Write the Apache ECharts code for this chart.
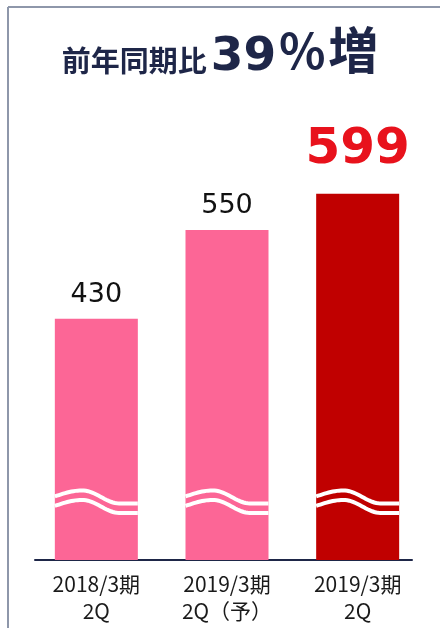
<!DOCTYPE html>
<html><head><meta charset="utf-8">
<script src="https://cdn.jsdelivr.net/npm/echarts@6/dist/echarts.min.js"></script>
<style>html,body{margin:0;padding:0;background:#fff}#c{width:440px;height:628px}</style>
</head><body><div id="c"></div>
<script>
const categories = ['2018/3期\n2Q', '2019/3期\n2Q（予）', '2019/3期\n2Q'];
const values = [430, 550, 599];
const titleSmall = '前年同期比';
const titleNum = '39';
const titlePct = '％';
const titleTail = '増';

const BAR_COLORS = ['#FC6696', '#FC6696', '#C00000'];
const Y_MIN = 104, Y_MAX = 704;
const BREAK_AT = 198;
const BAR_W = 83;

function waveOffset(t) {
  if (t < 0.33) return 6 * (1 - Math.sin(t / 0.33 * Math.PI / 2));
  if (t < 0.78) return 13 * (1 - Math.cos(Math.PI * (t - 0.33) / 0.45)) / 2;
  return 13;
}

const chart = echarts.init(document.getElementById('c'), null, {renderer: 'canvas'});
chart.setOption({
  animation: false,
  title: {
    left: 'center', top: 20,
    text: '{s|' + titleSmall + '}{n|' + titleNum + '}{p|' + titlePct + '}{b|' + titleTail + '}',
    textStyle: {
      rich: {
        s: {fontFamily: 'Noto Sans CJK JP', fontWeight: 'bold', fontSize: 29, color: '#1E2648', verticalAlign: 'bottom', lineHeight: 56, padding: [0, 0, 6, 0]},
        n: {fontFamily: 'DejaVu Sans', fontWeight: 'bold', fontSize: 47, color: '#1E2648', verticalAlign: 'bottom', lineHeight: 50, padding: [0, 0, 0, 4]},
        b: {fontFamily: 'Noto Sans CJK JP', fontWeight: 'bold', fontSize: 50, color: '#1E2648', verticalAlign: 'bottom', lineHeight: 56, padding: [0, 0, 6, 0]},
        p: {fontFamily: 'Noto Sans CJK JP', fontWeight: 'bold', fontSize: 48, color: '#1E2648', verticalAlign: 'bottom', lineHeight: 56, padding: [0, 2, 6, 2]}
      }
    }
  },
  graphic: [
    {type: 'line', shape: {x1: 8, y1: 7, x2: 440, y2: 7}, style: {stroke: '#8E97AA', lineWidth: 2}},
    {type: 'line', shape: {x1: 8, y1: 7, x2: 8, y2: 628}, style: {stroke: '#8E97AA', lineWidth: 2}}
  ],
  grid: [
    {left: 31, right: 17, top: 116, bottom: 68},
    {left: 35, right: 28, top: 116, bottom: 68}
  ],
  xAxis: [
    {type: 'category', data: categories, gridIndex: 0,
     axisLine: {show: false}, axisTick: {show: false},
     axisLabel: {fontFamily: 'Noto Sans CJK JP', fontSize: 21, color: '#1a1a1a', lineHeight: 27, margin: 11}},
    {type: 'category', data: categories, gridIndex: 1,
     axisLine: {show: true, lineStyle: {color: '#1E2648', width: 2}}, axisTick: {show: false}, axisLabel: {show: false}}
  ],
  yAxis: [
    {type: 'value', min: Y_MIN, max: Y_MAX, gridIndex: 0, show: false},
    {type: 'value', min: Y_MIN, max: Y_MAX, gridIndex: 1, show: false}
  ],
  series: [
    {
      type: 'bar', xAxisIndex: 0, yAxisIndex: 0, barWidth: BAR_W,
      data: values.map((v, i) => ({
        value: v,
        itemStyle: {color: BAR_COLORS[i]},
        label: i === 2 ? {fontSize: 50, fontWeight: 'bold', color: '#E8121C', distance: 19, fontFamily: 'DejaVu Sans'} : {}
      })),
      label: {show: true, position: 'top', fontFamily: 'DejaVu Sans', fontSize: 27, color: '#111', distance: 10}
    },
    {
      type: 'custom', xAxisIndex: 0, yAxisIndex: 0, z: 5,
      data: values.map((v, i) => [i, BREAK_AT]),
      renderItem: function (params, api) {
        const c = api.coord([api.value(0), api.value(1)]);
        const x0 = c[0] - BAR_W / 2;
        const mk = (dy) => {
          const pts = [];
          for (let k = 0; k <= 40; k++) {
            const t = k / 40;
            pts.push([x0 + t * BAR_W, c[1] + dy + waveOffset(t)]);
          }
          return pts;
        };
        return {type: 'group', children: [
          {type: 'polyline', shape: {points: mk(0)}, style: {stroke: '#fff', lineWidth: 4, fill: null}},
          {type: 'polyline', shape: {points: mk(9.5)}, style: {stroke: '#fff', lineWidth: 4, fill: null}}
        ]};
      }
    }
  ]
});
</script></body></html>
